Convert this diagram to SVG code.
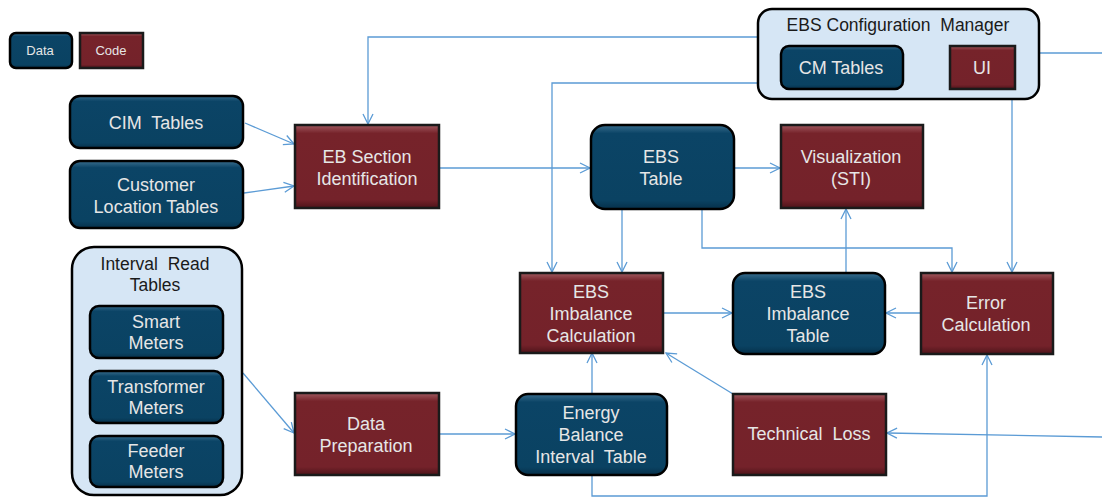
<svg xmlns="http://www.w3.org/2000/svg" width="1102" height="497" viewBox="0 0 1102 497">
<style>
.data{fill:url(#gData);stroke:#000;stroke-width:2.5}
.code{fill:url(#gCode);stroke:#1a1a1a;stroke-width:2.5}
.grp{fill:#D6E6F5;stroke:#000;stroke-width:2.5}
.t{font-family:"Liberation Sans",Arial,sans-serif;font-size:18px;fill:#E6E6E6;text-anchor:middle;white-space:pre}
.tg{font-family:"Liberation Sans",Arial,sans-serif;font-size:17.5px;fill:#1a1a1a;text-anchor:middle;white-space:pre}
.tl{font-family:"Liberation Sans",Arial,sans-serif;font-size:13px;fill:#E6E6E6;text-anchor:middle}
.c{fill:none;stroke:#5B9BD5;stroke-width:1.3}
</style>
<defs>
<linearGradient id="gData" x1="0" y1="0" x2="0" y2="1">
<stop offset="0" stop-color="#3A6E8E"/><stop offset="0.1" stop-color="#0B4466"/><stop offset="0.9" stop-color="#0A4262"/><stop offset="1" stop-color="#06304A"/>
</linearGradient>
<linearGradient id="gCode" x1="0" y1="0" x2="0" y2="1">
<stop offset="0" stop-color="#A15A60"/><stop offset="0.1" stop-color="#76232A"/><stop offset="0.9" stop-color="#74222A"/><stop offset="1" stop-color="#4E141A"/>
</linearGradient>
<marker id="a" viewBox="0 0 12 12" refX="11" refY="6" markerWidth="12" markerHeight="12" markerUnits="userSpaceOnUse" orient="auto-start-reverse">
<path d="M1,1 L11,6 L1,11" fill="none" stroke="#5B9BD5" stroke-width="1.3"/>
</marker>
</defs>
<rect width="1102" height="497" fill="#fff"/>

<g id="connectors">
<path class="c" d="M245,123 L294,144" marker-end="url(#a)"/>
<path class="c" d="M244,193 L294,186" marker-end="url(#a)"/>
<path class="c" d="M757,37 H368 V124" marker-end="url(#a)"/>
<path class="c" d="M757,83 H552 V272" marker-end="url(#a)"/>
<path class="c" d="M440,168 H590" marker-end="url(#a)"/>
<path class="c" d="M734,168 H780" marker-end="url(#a)"/>
<path class="c" d="M622,210 V272" marker-end="url(#a)"/>
<path class="c" d="M702,210 V248 H952 V272" marker-end="url(#a)"/>
<path class="c" d="M846,272 V209" marker-end="url(#a)"/>
<path class="c" d="M1039,53 H1102"/>
<path class="c" d="M1012,99 V272" marker-end="url(#a)"/>
<path class="c" d="M904,67 H949" marker-start="url(#a)" marker-end="url(#a)"/>
<path class="c" d="M664,313 H732" marker-end="url(#a)"/>
<path class="c" d="M921,313 H886" marker-end="url(#a)"/>
<path class="c" d="M733,394 L666,353" marker-end="url(#a)"/>
<path class="c" d="M592,394 V353" marker-end="url(#a)"/>
<path class="c" d="M440,434 H515" marker-end="url(#a)"/>
<path class="c" d="M243,373 L294,433" marker-end="url(#a)"/>
<path class="c" d="M1102,437 L887,433" marker-end="url(#a)"/>
<path class="c" d="M592,476 V496 H987 V355" marker-end="url(#a)"/>
</g>

<g id="legend-data"><rect class="data" x="10" y="33" width="62" height="35" rx="6"/><text class="tl" x="40" y="55">Data</text></g>
<g id="legend-code"><rect class="code" x="80" y="33" width="63" height="35"/><text class="tl" x="111" y="55">Code</text></g>

<g id="cim-tables"><rect class="data" x="70" y="96" width="173" height="52" rx="10"/><text class="t" x="156" y="129">CIM  Tables</text></g>
<g id="customer-location"><rect class="data" x="70" y="161" width="173" height="67" rx="10"/><text class="t" x="156" y="191">Customer</text><text class="t" x="156" y="213">Location Tables</text></g>
<g id="eb-section"><rect class="code" x="295" y="125" width="144" height="83"/><text class="t" x="367" y="163">EB Section</text><text class="t" x="367" y="185">Identification</text></g>

<g id="interval-read">
<rect class="grp" x="72" y="247" width="170" height="248" rx="22"/>
<text class="tg" x="155" y="270">Interval  Read</text><text class="tg" x="155" y="291">Tables</text>
<g id="smart-meters"><rect class="data" x="90" y="306" width="133" height="52" rx="9"/><text class="t" x="156" y="328">Smart</text><text class="t" x="156" y="349">Meters</text></g>
<g id="transformer-meters"><rect class="data" x="90" y="371" width="133" height="52" rx="9"/><text class="t" x="156" y="393">Transformer</text><text class="t" x="156" y="414">Meters</text></g>
<g id="feeder-meters"><rect class="data" x="90" y="436" width="133" height="51" rx="9"/><text class="t" x="156" y="457">Feeder</text><text class="t" x="156" y="478">Meters</text></g>
</g>

<g id="data-preparation"><rect class="code" x="295" y="393" width="144" height="82"/><text class="t" x="366" y="430">Data</text><text class="t" x="366" y="452">Preparation</text></g>
<g id="energy-balance"><rect class="data" x="516" y="394" width="151" height="81" rx="12"/><text class="t" x="591" y="419">Energy</text><text class="t" x="591" y="441">Balance</text><text class="t" x="591" y="463">Interval  Table</text></g>
<g id="ebs-imbalance-calc"><rect class="code" x="520" y="273" width="143" height="80"/><text class="t" x="591" y="298">EBS</text><text class="t" x="591" y="320">Imbalance</text><text class="t" x="591" y="342">Calculation</text></g>
<g id="ebs-imbalance-table"><rect class="data" x="733" y="273" width="152" height="81" rx="12"/><text class="t" x="808" y="298">EBS</text><text class="t" x="808" y="320">Imbalance</text><text class="t" x="808" y="342">Table</text></g>
<g id="error-calc"><rect class="code" x="921" y="273" width="132" height="81"/><text class="t" x="986" y="309">Error</text><text class="t" x="986" y="331">Calculation</text></g>
<g id="technical-loss"><rect class="code" x="733" y="394" width="153" height="81"/><text class="t" x="809" y="440">Technical  Loss</text></g>
<g id="ebs-table"><rect class="data" x="591" y="125" width="143" height="84" rx="14"/><text class="t" x="661" y="163">EBS</text><text class="t" x="661" y="185">Table</text></g>
<g id="visualization"><rect class="code" x="781" y="125" width="142" height="83"/><text class="t" x="851" y="163">Visualization</text><text class="t" x="851" y="185">(STI)</text></g>

<g id="ebs-config-manager">
<rect class="grp" x="758" y="9" width="281" height="90" rx="14"/>
<text class="tg" x="898" y="31">EBS Configuration  Manager</text>
<g id="cm-tables"><rect class="data" x="781" y="46" width="122" height="43" rx="8"/><text class="t" x="841" y="74">CM Tables</text></g>
<g id="ui"><rect class="code" x="950" y="46" width="65" height="43"/><text class="t" x="982" y="74">UI</text></g>
</g>
</svg>
